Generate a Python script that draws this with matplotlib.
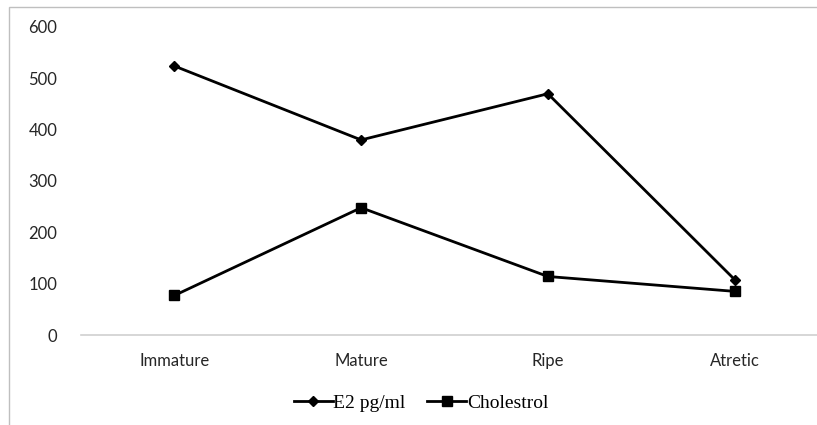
import matplotlib
matplotlib.use('Agg')
import matplotlib.pyplot as plt
from matplotlib.patches import Rectangle

categories = ['Immature', 'Mature', 'Ripe', 'Atretic']
e2_pgml = [524, 380, 470, 108]
cholestrol = [77, 248, 114, 85]
yticks = [0, 100, 200, 300, 400, 500, 600]

W, H = 817, 425
fig = plt.figure(figsize=(W / 100, H / 100), dpi=100)

# chart frame (cropped on the right and bottom in the original)
fig.patches.append(Rectangle((9 / W, -0.1), 1.2, 1.1 - 7 / H, transform=fig.transFigure,
                             fill=False, edgecolor='#bfbfbf', lw=1.0))

ax = fig.add_axes([81 / W, 90 / H, (828 - 81) / W, (335 - 27) / H])
x = range(len(categories))
ax.plot(x, e2_pgml, color='black', lw=2.0, marker='D', ms=5.5, label='E2 pg/ml')
ax.plot(x, cholestrol, color='black', lw=2.0, marker='s', ms=7, label='Cholestrol')

ax.set_xlim(-0.5, len(categories) - 0.5)
ax.set_ylim(0, 600)
ax.set_yticks(yticks)
ax.set_xticks(list(x))
ax.set_xticklabels(categories)
for s in ['top', 'right', 'left']:
    ax.spines[s].set_visible(False)
ax.spines['bottom'].set_color('#d0d0d0')
ax.spines['bottom'].set_linewidth(1.2)
ax.tick_params(axis='both', length=0, labelsize=12, labelcolor='#262626')
ax.tick_params(axis='y', pad=17)
ax.tick_params(axis='x', pad=13)
for lbl in ax.get_xticklabels() + ax.get_yticklabels():
    lbl.set_family('Lato')

leg = ax.legend(loc='center', bbox_to_anchor=(421 / W, 1 - 403 / H), bbox_transform=fig.transFigure,
                ncol=2, frameon=False, prop={'family': 'Liberation Serif', 'size': 14},
                handlelength=2.0, handletextpad=0.05, columnspacing=1.1)

fig.savefig('out.png', dpi=100)
